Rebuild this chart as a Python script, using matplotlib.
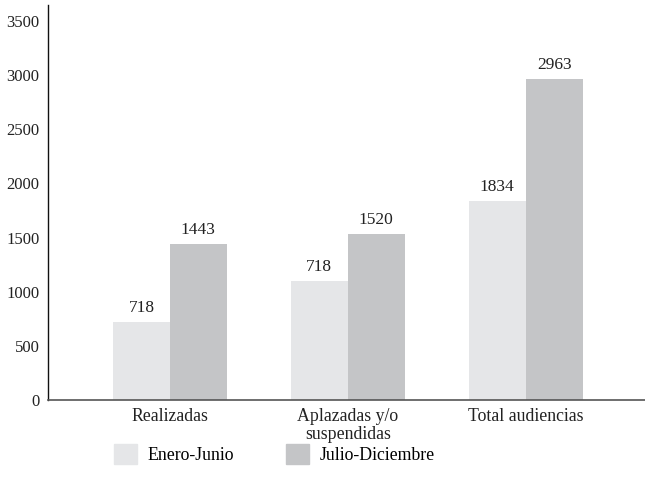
import matplotlib
matplotlib.use("Agg")
import matplotlib.pyplot as plt
import numpy as np
from matplotlib.patches import Patch

categories = ["Realizadas", "Aplazadas y/o\nsuspendidas", "Total audiencias"]
series_names = ["Enero-Junio", "Julio-Diciembre"]
enero_junio = [718, 1100, 1834]
julio_diciembre = [1443, 1530, 2963]
enero_labels = ["718", "718", "1834"]
julio_labels = ["1443", "1520", "2963"]
yticks = [0, 500, 1000, 1500, 2000, 2500, 3000, 3500]

c_light = "#e5e6e8"
c_dark = "#c4c5c7"
txt = "#222222"
plt.rcParams["font.family"] = ["Liberation Serif", "DejaVu Serif"]

fig = plt.figure(figsize=(6.45, 4.96), dpi=100)
ax = fig.add_axes([0.0744, 0.194, 0.9256, 0.796])

x = np.arange(len(categories))
w = 0.32
b1 = ax.bar(x - w / 2, enero_junio, w, color=c_light)
b2 = ax.bar(x + w / 2, julio_diciembre, w, color=c_dark)
for rect, lab in zip(b1, enero_labels):
    ax.text(rect.get_x() + rect.get_width() / 2, rect.get_height() + 55, lab,
            ha="center", va="bottom", fontsize=12.5, color=txt)
for rect, lab in zip(b2, julio_labels):
    ax.text(rect.get_x() + rect.get_width() / 2, rect.get_height() + 55, lab,
            ha="center", va="bottom", fontsize=12.5, color=txt)

ax.set_xlim(-0.685, 2.67)
ax.set_ylim(0, 3650)
ax.set_yticks(yticks)
ax.set_yticklabels([str(t) for t in yticks], fontsize=12, color=txt)
ax.set_xticks(x)
ax.set_xticklabels(categories, fontsize=12.8, color=txt, linespacing=1.1)
ax.tick_params(axis="both", length=0, pad=6)
for s in ["top", "right"]:
    ax.spines[s].set_visible(False)
ax.spines["left"].set_color("#111111")
ax.spines["bottom"].set_color("#555555")
ax.spines["left"].set_linewidth(1.0)
ax.spines["bottom"].set_linewidth(1.2)

handles = [Patch(color=c_light), Patch(color=c_dark)]
fig.legend(handles, series_names, loc="lower left", bbox_to_anchor=(0.177, 0.065),
           ncol=2, frameon=False, fontsize=12.8, handlelength=1.3, handleheight=1.35,
           columnspacing=2.9, handletextpad=0.6, borderaxespad=0, borderpad=0)

fig.savefig("out.png", dpi=100)
